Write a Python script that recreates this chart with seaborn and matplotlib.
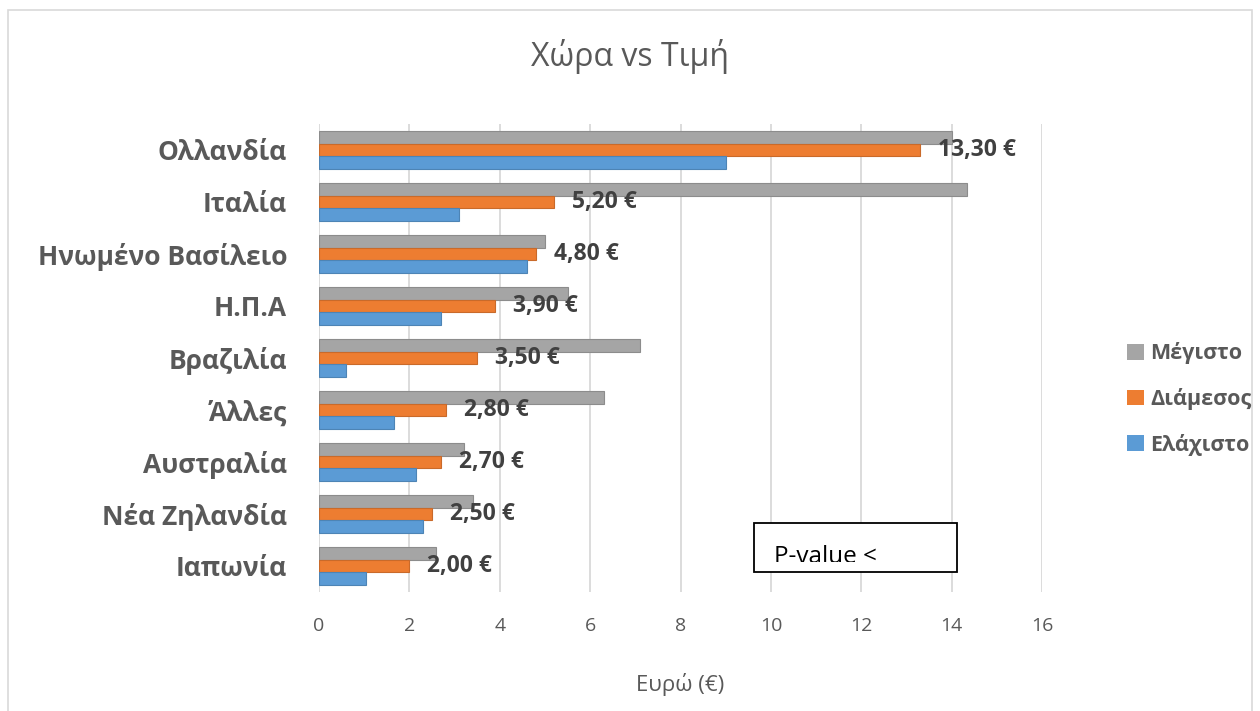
import matplotlib
matplotlib.use("Agg")
import matplotlib.pyplot as plt
import numpy as np
import pandas as pd
import seaborn as sns
from matplotlib.patches import Rectangle, Patch

# ---------------- data ----------------
countries = ["Ολλανδία", "Ιταλία", "Ηνωμένο Βασίλειο", "Η.Π.Α", "Βραζιλία",
             "Άλλες", "Αυστραλία", "Νέα Ζηλανδία", "Ιαπωνία"]
max_vals = [14.0, 14.35, 5.0, 5.5, 7.1, 6.3, 3.2, 3.4, 2.6]
median_vals = [13.3, 5.2, 4.8, 3.9, 3.5, 2.8, 2.7, 2.5, 2.0]
min_vals = [9.0, 3.1, 4.6, 2.7, 0.6, 1.65, 2.15, 2.3, 1.05]
series_names = ["Μέγιστο", "Διάμεσος", "Ελάχιστο"]
series_colors = ["#A5A5A5", "#ED7D31", "#5B9BD5"]
xticks = [0, 2, 4, 6, 8, 10, 12, 14, 16]
title = "Χώρα vs Τιμή"
xlabel = "Ευρώ (€)"
note_text = "P-value <"

rows = []
for name, vals in zip(series_names, [max_vals, median_vals, min_vals]):
    for c, v in zip(countries, vals):
        rows.append({"Χώρα": c, "Τιμή": v, "Σειρά": name})
df = pd.DataFrame(rows)
median_labels = [f"{v:.2f}".replace(".", ",") + " €" for v in median_vals]

# ---------------- style ----------------
sns.set_theme(style="white")
plt.rcParams["font.family"] = ["Open Sans", "DejaVu Sans"]
TXT = "#595959"

W, H = 1260, 711
fig = plt.figure(figsize=(W / 100, H / 100), dpi=100)
fig.patch.set_facecolor("white")

# outer chart border
fig.patches.append(Rectangle((8 / W, -0.01), 1244 / W, 1 - 10 / H + 0.01,
                             transform=fig.transFigure, fill=False,
                             edgecolor="#D9D9D9", lw=1.2))

ax = fig.add_axes([319 / W, 1 - 592 / H, 723 / W, 468 / H])
sns.barplot(data=df, y="Χώρα", x="Τιμή", hue="Σειρά", hue_order=series_names,
            order=countries, palette=series_colors, orient="h", width=0.72,
            saturation=1, ax=ax, legend=False, errorbar=None)

for cont, col in zip(ax.containers, series_colors):
    for p in cont:
        p.set_edgecolor(matplotlib.colors.to_hex(np.array(matplotlib.colors.to_rgb(col)) * 0.85))
        p.set_linewidth(0.8)

ax.set_xlim(0, 16)
ax.set_xticks(xticks)
ax.set_xticklabels([str(t) for t in xticks])
ax.xaxis.grid(True, color="#D9D9D9", lw=1.3)
ax.yaxis.grid(False)
ax.set_axisbelow(True)
for s in ax.spines.values():
    s.set_visible(False)

ax.tick_params(axis="x", length=0, pad=18, labelsize=14, labelcolor=TXT)
ax.tick_params(axis="y", length=0, pad=23, labelsize=19, labelcolor=TXT)
for lab in ax.get_yticklabels():
    lab.set_fontweight("bold")

ax.set_ylabel("")
ax.set_xlabel(xlabel, fontsize=16, color=TXT)
ax.xaxis.set_label_coords(0.5, -(685 - 592) / 468)
ax.xaxis.label.set_va("center")

ax.bar_label(ax.containers[1], labels=median_labels, padding=13, fontsize=16.5,
             fontweight="bold", color="#404040")

fig.suptitle(title, x=0.5, y=1 - 57 / H, va="center", fontsize=23, color=TXT)

handles = [Patch(facecolor=c, edgecolor="none") for c in series_colors]
leg = fig.legend(handles, series_names, loc="center left",
                 bbox_to_anchor=(1108 / W, 1 - 399 / H), frameon=False,
                 handlelength=0.75, handleheight=0.75, handletextpad=0.3,
                 labelspacing=1.1, prop={"size": 15.5, "weight": "bold"})
for t in leg.get_texts():
    t.set_color(TXT)

# P-value note box
box = Rectangle((754 / W, 1 - 572 / H), 203 / W, 49 / H, transform=fig.transFigure,
                facecolor="white", edgecolor="black", lw=1.3, zorder=5)
fig.patches.append(box)
clip = Rectangle((754 / W, 1 - 562 / H), 203 / W, 39 / H, transform=fig.transFigure,
                 fill=False, edgecolor="none")
fig.patches.append(clip)
t = fig.text(774 / W, 1 - 563 / H, note_text, fontsize=17.5, color="black",
             va="baseline", ha="left", zorder=6)
t.set_clip_path(clip)

fig.savefig("out.png", dpi=100)
